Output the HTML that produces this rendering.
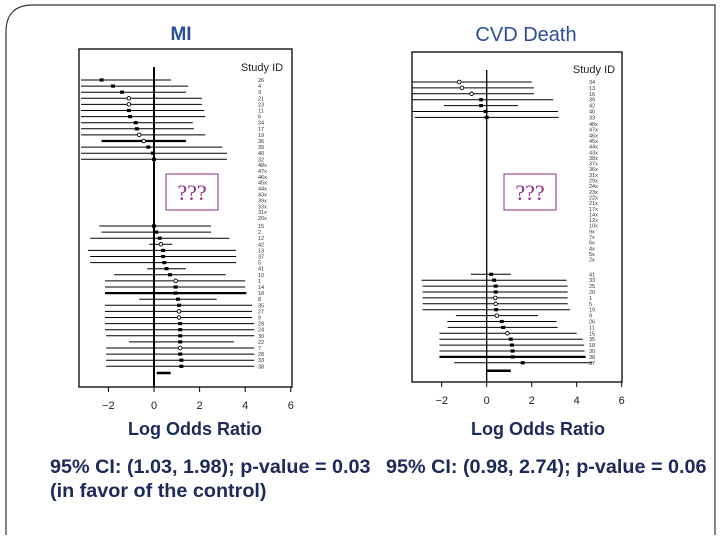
<!DOCTYPE html>
<html><head><meta charset="utf-8">
<style>
body{margin:0;background:#fff;}
#wrap{position:relative;width:720px;height:540px;overflow:hidden;font-family:"Liberation Sans",sans-serif;}
svg{position:absolute;left:0;top:0;}
</style></head>
<body><div id="wrap">
<svg id="chart" width="720" height="540">
<path d="M6 535 L6 32 Q6 5 33 5 L715 5 L715 535" fill="none" stroke="#333" stroke-width="1.2"/>
<text x="181" y="40" text-anchor="middle" font-size="19" font-weight="bold" fill="#2B4C9A">MI</text>
<text x="526" y="41" text-anchor="middle" font-size="20" fill="#2B4C9A">CVD Death</text>
<text x="195" y="435" text-anchor="middle" font-size="18" font-weight="bold" fill="#1B2A5A">Log Odds Ratio</text>
<text x="538" y="435" text-anchor="middle" font-size="18" font-weight="bold" fill="#1B2A5A">Log Odds Ratio</text>
<text x="50" y="473" font-size="19.8" font-weight="bold" fill="#1B2A5A">95% CI: (1.03, 1.98); p-value = 0.03</text>
<text x="50" y="497" font-size="19.8" font-weight="bold" fill="#1B2A5A">(in favor of the control)</text>
<text x="386" y="473" font-size="19.8" font-weight="bold" fill="#1B2A5A">95% CI: (0.98, 2.74); p-value = 0.06</text>
</svg></div>
<script>
// MI data
const miTopIds=["26","4","3","21","23","11","6","34","17","19","36","39","40","32"];
const miTopEst=[-2.3,-1.8,-1.4,-1.1,-1.1,-1.1,-1.05,-0.8,-0.75,-0.65,-0.45,-0.25,-0.05,0];
const miTopLo=[-3.2,-3.2,-3.2,-3.2,-3.2,-3.2,-3.2,-3.2,-3.2,-3.2,-2.3,-3.2,-3.2,-3.2];
const miTopHi=[0.75,1.5,1.4,2.1,2.1,2.2,2.25,1.7,1.75,2.25,1.4,3.0,3.2,3.2];
const miTopOpen=[0,0,0,1,1,0,0,0,0,1,1,0,0,0];
const miXIds=["48x","47x","46x","45x","44x","43x","39x","33x","31x","20x"];
const miBotIds=["15","2","12","42","13","37","5","41","10","1","14","18","8","35","27","9","29","24","30","22","7","28","33","38"];
const miBotEst=[0,0.1,0.25,0.3,0.4,0.4,0.45,0.55,0.7,0.95,0.95,0.95,1.05,1.1,1.1,1.1,1.15,1.15,1.15,1.15,1.15,1.15,1.2,1.2];
const miBotLo=[-2.4,-2.3,-2.8,-0.2,-2.9,-2.8,-2.8,-0.3,-1.75,-2.15,-2.15,-2.15,-0.65,-2.15,-2.15,-2.15,-2.15,-2.15,-2.1,-1.1,-2.1,-2.1,-2.1,-2.1];
const miBotHi=[2.5,2.5,3.3,0.8,3.6,3.6,3.6,1.4,3.15,4.0,4.0,4.05,2.75,4.3,4.3,4.3,4.4,4.4,4.4,3.5,4.4,4.4,4.4,4.4];
const miBotOpen=[0,0,0,1,0,0,0,0,0,1,0,0,0,0,1,1,0,0,0,0,1,0,0,0];
const miPooled=[0.12,0.73];
// CVD data
const cvTopIds=["34","13","16","39","42","40","33"];
const cvTopEst=[-1.22,-1.1,-0.67,-0.25,-0.25,-0.05,0];
const cvTopLo=[-3.3,-3.3,-3.3,-3.3,-1.9,-3.3,-3.2];
const cvTopHi=[2.0,2.1,2.1,2.95,1.4,3.17,3.2];
const cvTopOpen=[1,1,1,0,0,0,0];
const cvXIds=["48x","47x","46x","45x","44x","43x","38x","37x","36x","31x","29x","24x","23x","22x","21x","17x","14x","12x","10x","9x","7x","6x","4x","5x","2x"];
const cvBotIds=["41","33","25","20","1","5","19","9","26","11","15","35","18","30","38","37"];
const cvBotEst=[0.2,0.33,0.4,0.4,0.38,0.4,0.42,0.45,0.67,0.73,0.92,1.07,1.12,1.15,1.15,1.6];
const cvBotLo=[-0.7,-2.9,-2.85,-2.85,-2.85,-2.85,-2.85,-1.37,-1.75,-1.73,-2.1,-2.1,-2.1,-2.1,-2.1,-1.45];
const cvBotHi=[1.07,3.55,3.6,3.6,3.6,3.6,3.7,2.28,3.1,3.15,4.0,4.27,4.33,4.35,4.4,4.7];
const cvBotOpen=[0,0,0,0,1,1,0,1,0,0,1,0,0,0,0,0];
const cvPooled=[-0.03,1.07];
const xTicks=[-2,0,2,4,6];

const NS="http://www.w3.org/2000/svg";
const svg=document.getElementById('chart');
function mk(tag,attrs,parent){const e=document.createElementNS(NS,tag);for(const k in attrs)e.setAttribute(k,attrs[k]);(parent||svg).appendChild(e);return e;}

function drawPlot(cfg){
  const g=mk('g',{});
  
  
  const sx=v=>cfg.x0+v*cfg.ppu;
  const clip=v=>Math.max(cfg.left,Math.min(cfg.right,sx(v)));
  const box=mk('rect',{x:cfg.left,y:cfg.top,width:cfg.right-cfg.left,height:cfg.bottom-cfg.top,fill:'none',stroke:'#000','stroke-width':1.3},g);
  
  
  const zl=mk('line',{x1:sx(0),x2:sx(0),y1:cfg.zTop,y2:cfg.bottom,stroke:'#000','stroke-width':cfg.zW},g);
  
  
  const sid=mk('text',{x:cfg.idHeadX,y:cfg.idHeadY,'font-size':11,fill:'#222','text-anchor':'middle'},g);
  sid.textContent='Study ID';
  
  
  function row(id,y,est,lo,hi,open,thick){
    const l=mk('line',{x1:clip(lo),x2:clip(hi),y1:y,y2:y,stroke:'#000','stroke-width':thick?2.2:1},g);
    
    
    let m;
    if(open){m=mk('circle',{cx:sx(est),cy:y,r:1.8,fill:'#fff',stroke:'#000','stroke-width':0.9},g);}
    else{m=mk('rect',{x:sx(est)-2,y:y-1.6,width:4,height:3.2,fill:'#000'},g);}
    
    
    const t=mk('text',{x:cfg.idX,y:y+2,'font-size':5.5,fill:'#333'},g);
    t.textContent=id;
    
    
  }
  cfg.topIds.forEach((id,i)=>row(id,cfg.topY+i*cfg.step,cfg.topEst[i],cfg.topLo[i],cfg.topHi[i],cfg.topOpen[i],cfg.thickTop===i));
  cfg.xIds.forEach((id,i)=>{
    const t=mk('text',{x:cfg.idX,y:cfg.xY+i*cfg.xStep+2,'font-size':5.5,fill:'#333'},g);
    t.textContent=id;
    
    
  });
  cfg.botIds.forEach((id,i)=>row(id,cfg.botY+i*cfg.step,cfg.botEst[i],cfg.botLo[i],cfg.botHi[i],cfg.botOpen[i],cfg.thickBot===i));
  const p=mk('line',{x1:sx(cfg.pooled[0]),x2:sx(cfg.pooled[1]),y1:cfg.pooledY,y2:cfg.pooledY,stroke:'#000','stroke-width':2.5},g);
  
  
  xTicks.forEach(v=>{
    const tk=mk('line',{x1:sx(v),x2:sx(v),y1:cfg.bottom,y2:cfg.bottom+5,stroke:'#000'},g);
    
    
    const tl=mk('text',{x:sx(v),y:cfg.bottom+22,'font-size':11,'text-anchor':'middle',fill:'#222'},g);
    tl.textContent=v<0?'\u2212'+(-v):String(v);
    
    
  });
  const qb=mk('rect',{x:cfg.qx,y:174,width:52,height:36,fill:'#fff',stroke:'#8B2A82','stroke-width':1},g);
  
  
  const qt=mk('text',{x:cfg.qx+26,y:200,'font-size':22,'text-anchor':'middle',fill:'#8B2A82','font-family':'Liberation Serif, serif'},g);
  qt.textContent='???';
  
  
}
drawPlot({name:'mi-forest-plot',left:79,right:292,top:49,bottom:387,x0:154,ppu:22.8,zTop:67,zW:2,
  idHeadX:262,idHeadY:71,idX:258,step:6.1,topY:80,xY:165,xStep:5.9,botY:226,pooledY:373,thickTop:10,thickBot:11,
  topIds:miTopIds,topEst:miTopEst,topLo:miTopLo,topHi:miTopHi,topOpen:miTopOpen,xIds:miXIds,
  botIds:miBotIds,botEst:miBotEst,botLo:miBotLo,botHi:miBotHi,botOpen:miBotOpen,pooled:miPooled,qx:166});
drawPlot({name:'cvd-forest-plot',left:412,right:622,top:52,bottom:382,x0:486.7,ppu:22.5,zTop:70,zW:1.3,
  idHeadX:594,idHeadY:73,idX:589,step:5.9,topY:82,xY:124,xStep:5.65,botY:274.3,pooledY:370.7,thickTop:-1,thickBot:14,
  topIds:cvTopIds,topEst:cvTopEst,topLo:cvTopLo,topHi:cvTopHi,topOpen:cvTopOpen,xIds:cvXIds,
  botIds:cvBotIds,botEst:cvBotEst,botLo:cvBotLo,botHi:cvBotHi,botOpen:cvBotOpen,pooled:cvPooled,qx:504});
</script>
</body></html>
